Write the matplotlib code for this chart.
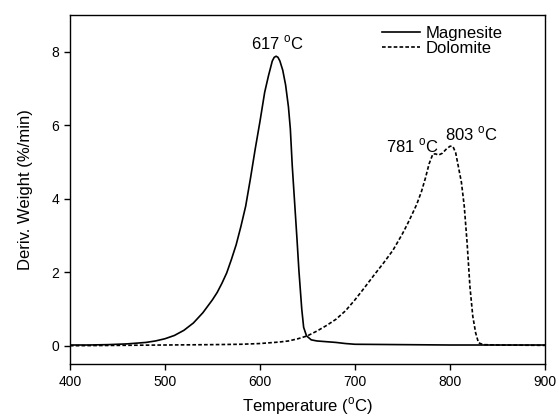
import matplotlib
matplotlib.use("Agg")
import matplotlib.pyplot as plt

plt.rcParams['font.family'] = ['Liberation Sans', 'DejaVu Sans']
plt.rcParams['mathtext.fontset'] = 'custom'
plt.rcParams['mathtext.rm'] = 'Liberation Sans'

mag_T = [400, 420, 440, 460, 470, 480, 490, 500, 510, 520, 530, 540, 550, 555, 560, 565,
         570, 575, 580, 585, 590, 595, 600, 605, 609, 613, 615, 617, 619, 621, 624, 627,
         630, 632, 634, 637, 639, 641, 644, 646, 649, 654, 660, 670, 680, 690, 700, 750,
         800, 850, 900]
mag_y = [0.02, 0.02, 0.03, 0.05, 0.07, 0.09, 0.13, 0.19, 0.28, 0.42, 0.62, 0.9, 1.25, 1.45, 1.7, 1.98,
         2.35, 2.75, 3.25, 3.8, 4.55, 5.35, 6.1, 6.9, 7.35, 7.75, 7.85, 7.88, 7.85, 7.75, 7.5, 7.1,
         6.5, 5.9, 4.9, 3.7, 2.9, 2.05, 1.0, 0.5, 0.27, 0.16, 0.13, 0.11, 0.09, 0.06, 0.04, 0.03,
         0.02, 0.02, 0.02]

dol_T = [400, 450, 500, 550, 580, 600, 620, 630, 640, 650, 660, 670, 680, 690, 700, 710,
         720, 730, 740, 750, 755, 760, 765, 770, 774, 778, 782, 785, 788, 792, 796, 800,
         803, 806, 809, 812, 815, 818, 821, 824, 827, 830, 835, 850, 900]
dol_y = [0.0, 0.01, 0.02, 0.03, 0.04, 0.06, 0.1, 0.13, 0.19, 0.27, 0.4, 0.55, 0.72, 0.95, 1.25, 1.58,
         1.92, 2.25, 2.6, 3.05, 3.3, 3.57, 3.85, 4.2, 4.55, 4.95, 5.22, 5.22, 5.19, 5.24, 5.35, 5.43,
         5.43, 5.25, 4.85, 4.45, 3.8, 2.8, 1.6, 0.8, 0.35, 0.08, 0.03, 0.02, 0.01]

peak_labels = ["617 $^{\\rm o}$C", "781 $^{\\rm o}$C", "803 $^{\\rm o}$C"]
peak_pos = [(618, 8.06), (760, 5.27), (823, 5.6)]

fig = plt.figure(figsize=(5.59, 4.19), dpi=100)
ax = fig.add_axes([0.125, 0.131, 0.85, 0.833])

ax.plot(mag_T, mag_y, color='black', lw=1.2, label='Magnesite')
ax.plot(dol_T, dol_y, color='black', lw=1.2, linestyle=(0, (2.2, 1.3)), label='Dolomite')

for lab, (x, y) in zip(peak_labels, peak_pos):
    ax.text(x, y, lab, ha='center', va='baseline', fontsize=12)

ax.set_xlim(400, 900)
ax.set_ylim(-0.5, 9)
ax.set_xticks([400, 500, 600, 700, 800, 900])
ax.set_yticks([0, 2, 4, 6, 8])
ax.tick_params(direction='out', length=4.5, width=1, labelsize=10, top=False, right=False, pad=3)
for s in ax.spines.values():
    s.set_linewidth(1)

ax.set_xlabel("Temperature ($^{\\rm o}$C)", fontsize=12, va='top')
ax.xaxis.set_label_coords(0.5, -0.09)
ax.set_ylabel("Deriv. Weight (%/min)", fontsize=12)
ax.yaxis.set_label_coords(-0.078, 0.5)

ax.legend(loc='upper left', frameon=False, fontsize=12, handlelength=2.3,
          handletextpad=0.3, labelspacing=0.0, borderpad=0, borderaxespad=0,
          bbox_to_anchor=(0.657, 0.969))

fig.savefig("out.png", dpi=100)
